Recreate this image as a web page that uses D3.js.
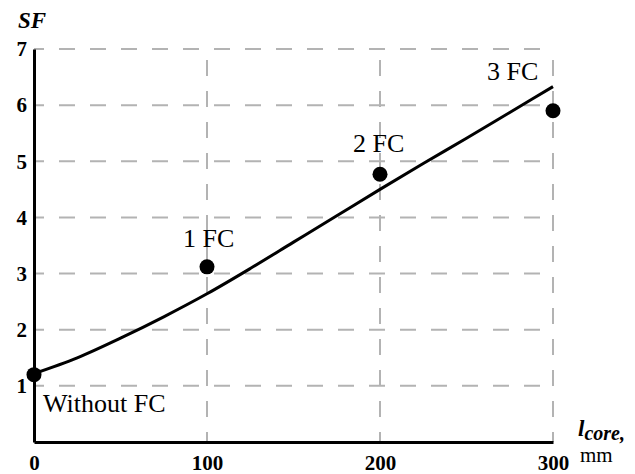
<!DOCTYPE html>
<html>
<head>
<meta charset="utf-8">
<script src="https://cdn.jsdelivr.net/npm/d3@7"></script>
<style>
  body { margin: 0; background: #fff; }
  svg { display: block; font-family: "Liberation Serif", "Times New Roman", serif; }
</style>
</head>
<body>
<svg id="chart" width="635" height="474"></svg>
<script>
// measured points
const fcLabels = ["Without FC", "1 FC", "2 FC", "3 FC"];
const coreLength = [0, 100, 200, 300];
const sfMeasured = [1.2, 3.12, 4.77, 5.9];

// fitted curve
const curveX = [0, 25, 50, 75, 100, 125, 150, 175, 200, 225, 250, 275, 300];
const curveSF = [1.22, 1.5, 1.85, 2.23, 2.64, 3.09, 3.56, 4.03, 4.5, 4.96, 5.41, 5.87, 6.33];

const xTicks = [0, 100, 200, 300];
const yTicks = [1, 2, 3, 4, 5, 6, 7];

// label placement relative to each point (px)
const labelOffsets = [[9, 37], [-24, -20], [-27, -22], [-66, -31]];

const svg = d3.select("#chart");

const xScale = d3.scaleLinear().domain([0, 300]).range([34, 553]);
const yScale = d3.scaleLinear().domain([0, 7]).range([442, 49]);

// dashed grid
const grid = svg.append("g")
  .attr("stroke", "#b3b3b3")
  .attr("stroke-width", 2)
  .attr("stroke-dasharray", "16,15")
  .attr("stroke-dashoffset", 6);

grid.selectAll(".hgrid")
  .data(yTicks)
  .join("line")
  .attr("class", "hgrid")
  .attr("x1", xScale(0))
  .attr("x2", xScale(300))
  .attr("y1", d => yScale(d))
  .attr("y2", d => yScale(d));

grid.selectAll(".vgrid")
  .data(xTicks.filter(d => d > 0))
  .join("line")
  .attr("class", "vgrid")
  .attr("x1", d => xScale(d))
  .attr("x2", d => xScale(d))
  .attr("y1", yScale(0))
  .attr("y2", yScale(7));

// axes
const xAxis = svg.append("g")
  .attr("transform", `translate(0,${yScale(0)})`)
  .call(d3.axisBottom(xScale).tickValues(xTicks).tickFormat(d3.format("d")).tickSize(0).tickPadding(13));

const yAxis = svg.append("g")
  .attr("transform", `translate(${xScale(0)},0)`)
  .call(d3.axisLeft(yScale).tickValues(yTicks).tickFormat(d3.format("d")).tickSize(0).tickPadding(7));

[xAxis, yAxis].forEach(ax => {
  ax.select(".domain").attr("stroke", "#000").attr("stroke-width", 3);
  ax.selectAll("text")
    .attr("fill", "#000")
    .style("font-family", "Liberation Serif")
    .style("font-weight", "bold")
    .style("font-size", "21px");
});

// fitted curve
const lineGen = d3.line()
  .x(d => xScale(d[0]))
  .y(d => yScale(d[1]))
  .curve(d3.curveMonotoneX);

svg.append("path")
  .datum(d3.zip(curveX, curveSF))
  .attr("fill", "none")
  .attr("stroke", "#000")
  .attr("stroke-width", 3)
  .attr("d", lineGen);

// measured points
svg.selectAll(".pt")
  .data(d3.zip(coreLength, sfMeasured))
  .join("circle")
  .attr("class", "pt")
  .attr("cx", d => xScale(d[0]))
  .attr("cy", d => yScale(d[1]))
  .attr("r", 7.5)
  .attr("fill", "#000");

svg.selectAll(".pt-label")
  .data(fcLabels)
  .join("text")
  .attr("class", "pt-label")
  .attr("x", (d, i) => xScale(coreLength[i]) + labelOffsets[i][0])
  .attr("y", (d, i) => yScale(sfMeasured[i]) + labelOffsets[i][1])
  .attr("font-size", 26)
  .text(d => d);

// axis titles
svg.append("text")
  .attr("x", 18)
  .attr("y", 28)
  .attr("font-size", 23)
  .attr("font-weight", "bold")
  .attr("font-style", "italic")
  .text("SF");

const xt = svg.append("text")
  .attr("x", 578)
  .attr("y", 436)
  .attr("font-weight", "bold")
  .attr("font-style", "italic");
xt.append("tspan").attr("font-size", 23).text("l");
xt.append("tspan").attr("font-size", 20).attr("dy", 4).text("core,");

svg.append("text")
  .attr("x", 580)
  .attr("y", 462)
  .attr("font-size", 21)
  .text("mm");
</script>
</body>
</html>
